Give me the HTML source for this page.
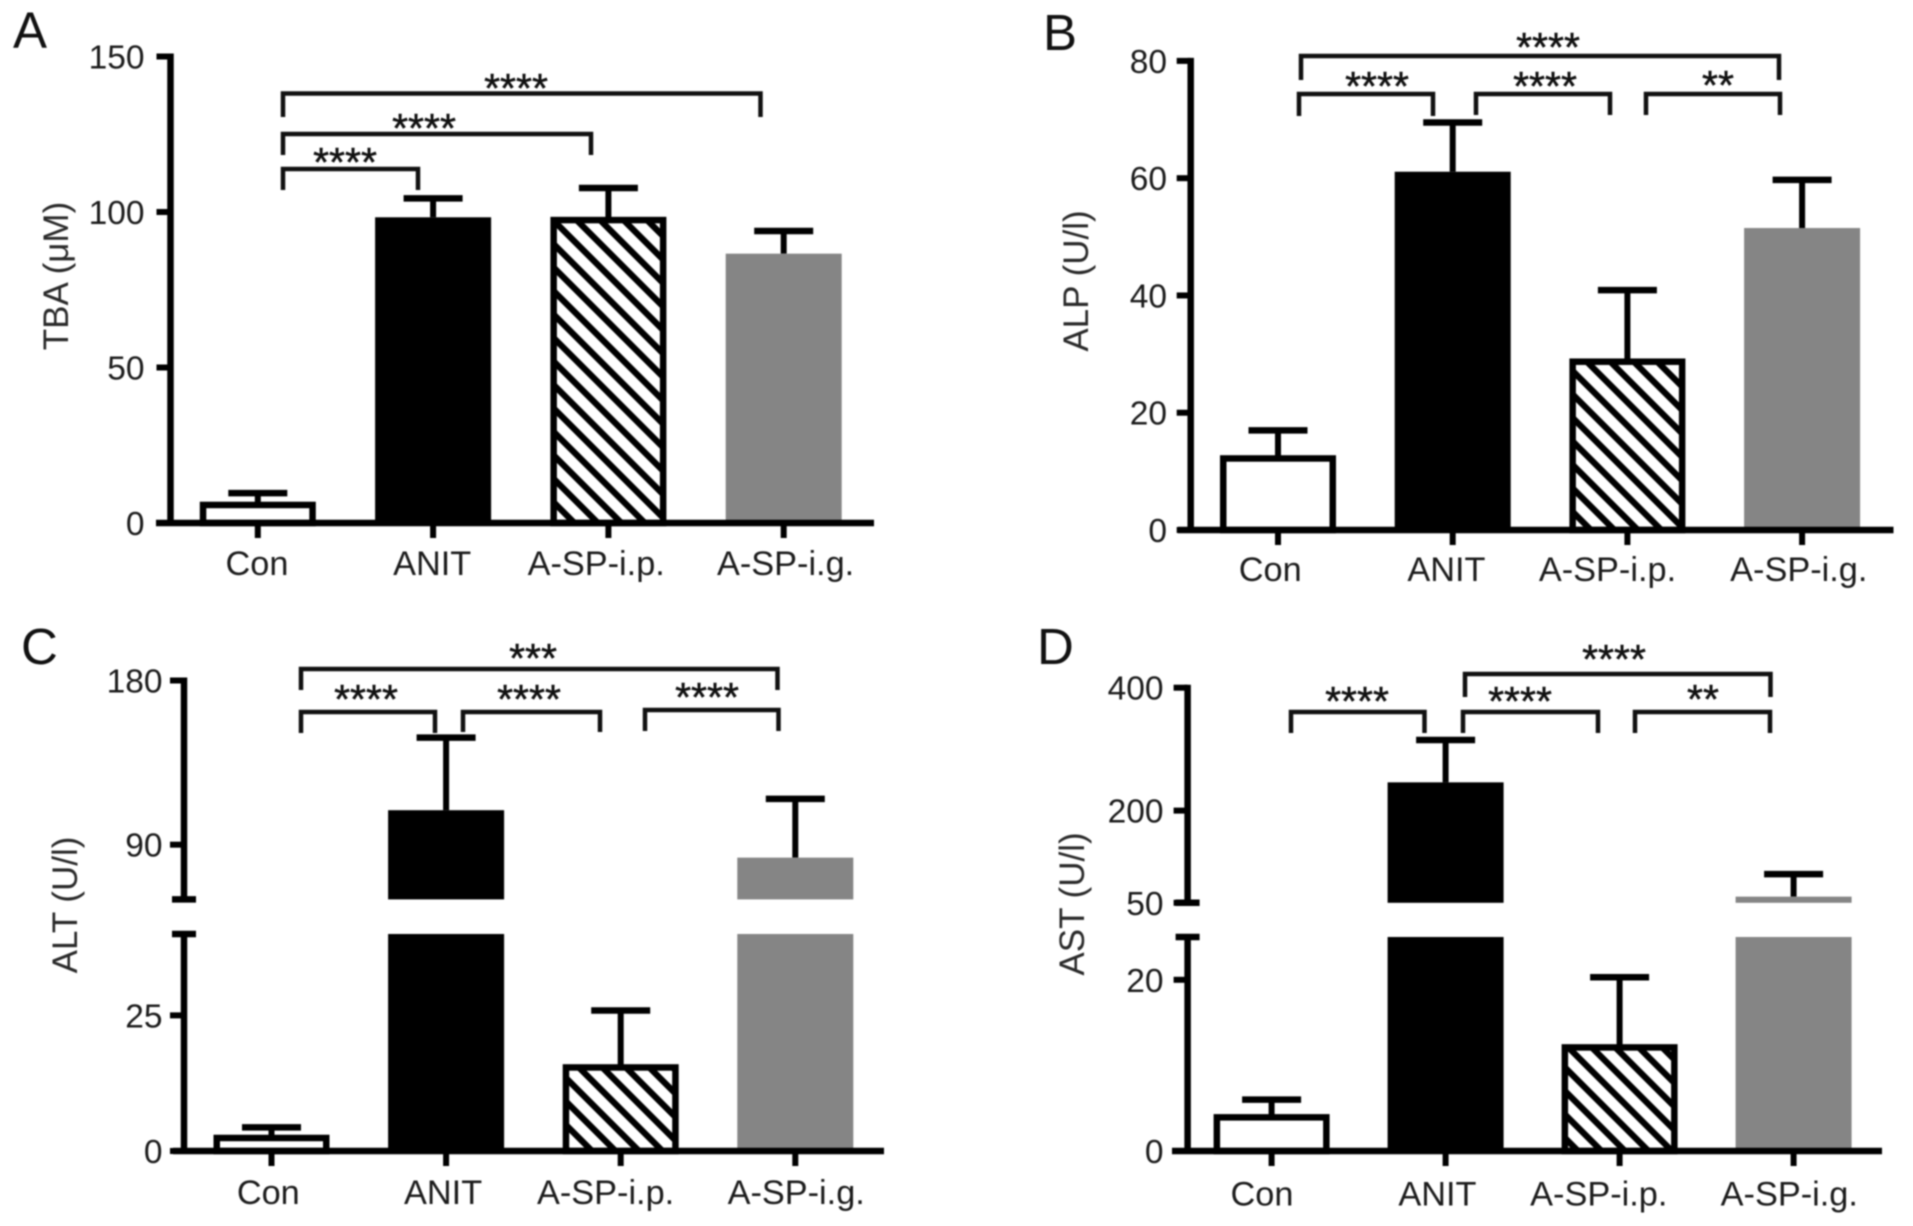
<!DOCTYPE html>
<html lang="en">
<head>
<meta charset="utf-8">
<title>Serum biochemistry bar charts</title>
<style>
html,body{margin:0;padding:0;background:#fff;}
#figure{display:block;width:1913px;height:1226px;filter:blur(0.8px);font-family:"Liberation Sans",sans-serif;}
.letter{font-size:51px;fill:#111;}
.ytitle{font-size:35px;fill:#2a2a2a;text-anchor:middle;}
.stars{font-size:41px;fill:#111;text-anchor:middle;stroke:#111;stroke-width:.5px;}
.bk{fill:none;stroke:#111;stroke-width:4.5px;}
.tick-label{font-size:33.5px;fill:#1c1c1c;text-anchor:end;}
.cat-label{font-size:34.3px;fill:#1c1c1c;text-anchor:middle;}
</style>
</head>
<body>
<svg id="figure" xmlns="http://www.w3.org/2000/svg" width="1913" height="1226" viewBox="0 0 1913 1226">
  <defs>
    <pattern id="hatch" patternUnits="userSpaceOnUse" width="16.6" height="16.6" patternTransform="rotate(-45)">
      <rect width="16.6" height="16.6" fill="#fff"></rect>
      <rect width="6.3" height="16.6" fill="#000"></rect>
    </pattern>
  </defs>
  <rect width="1913" height="1226" fill="#fff"></rect>

  <text class="letter" x="13" y="48">A</text>
  <text class="letter" x="1043" y="50">B</text>
  <text class="letter" x="21" y="664">C</text>
  <text class="letter" x="1037" y="664">D</text>

  <text class="ytitle" transform="translate(68,276) rotate(-90)">TBA (μM)</text>
  <text class="ytitle" transform="translate(1088,281) rotate(-90)">ALP (U/l)</text>
  <text class="ytitle" transform="translate(77,905) rotate(-90)">ALT (U/l)</text>
  <text class="ytitle" transform="translate(1084,904) rotate(-90)">AST (U/l)</text>

  <g>
    <path class="bk" d="M283 117V93.5H760.5V117"></path>
    <text class="stars" x="516" y="102">****</text>
    <path class="bk" d="M283 155V134H591V155"></path>
    <text class="stars" x="424" y="142">****</text>
    <path class="bk" d="M283 190V169H418V190"></path>
    <text class="stars" x="345" y="176">****</text>
  </g>
  <g>
    <path class="bk" d="M1301 80V56H1779V80"></path>
    <text class="stars" x="1548" y="61">****</text>
    <path class="bk" d="M1299 116V94H1433V116"></path>
    <text class="stars" x="1377" y="100">****</text>
    <path class="bk" d="M1476 115V94H1610V115"></path>
    <text class="stars" x="1545" y="100">****</text>
    <path class="bk" d="M1646 115V94H1780V115"></path>
    <text class="stars" x="1718" y="99">**</text>
  </g>
  <g>
    <path class="bk" d="M301 690V669H777.5V690"></path>
    <text class="stars" x="533" y="672">***</text>
    <path class="bk" d="M301 733V712H435V733"></path>
    <text class="stars" x="366" y="713">****</text>
    <path class="bk" d="M463 732V712H600V732"></path>
    <text class="stars" x="529" y="713">****</text>
    <path class="bk" d="M645 731V710H778.5V731"></path>
    <text class="stars" x="707" y="711">****</text>
  </g>
  <g>
    <path class="bk" d="M1465 697V674H1770.5V697"></path>
    <text class="stars" x="1614" y="673">****</text>
    <path class="bk" d="M1291 733V712H1424.5V733"></path>
    <text class="stars" x="1357" y="715">****</text>
    <path class="bk" d="M1463 733V712H1598V733"></path>
    <text class="stars" x="1520" y="715">****</text>
    <path class="bk" d="M1635 733V712H1770V733"></path>
    <text class="stars" x="1703" y="713">**</text>
  </g>
</svg>
<script>
const categories = ["Con", "ANIT", "A-SP-i.p.", "A-SP-i.g."];

const tbaValues = [5.8, 98.3, 97.4, 86.6];
const tbaErrorTops = [9.6, 104.4, 107.7, 93.9];
const tbaTicks = [0, 50, 100, 150];

const alpValues = [12.2, 61.1, 28.7, 51.5];
const alpErrorTops = [17, 69.5, 40.9, 59.7];
const alpTicks = [0, 20, 40, 60, 80];

const altValues = [2.4, 108.9, 15.4, 82.9];
const altErrorTops = [4.35, 148.7, 25.9, 115.1];
const altTicks = [0, 25, 90, 180];

const astValues = [3.93, 246, 12.1, 60];
const astErrorTops = [6, 315, 20.3, 96.6];
const astTicks = [0, 20, 50, 200, 400];

const NS = "http://www.w3.org/2000/svg";
const root = document.getElementById("figure");
const barFills = ["#fff", "#000", "url(#hatch)", "#858585"];
const barOutlined = [true, false, true, false];

function make(tag, parent, attrs) {
  const el = document.createElementNS(NS, tag);
  for (const k in attrs) el.setAttribute(k, attrs[k]);
  parent.appendChild(el);
  return el;
}

function makeYScale(segments) {
  return function (v) {
    for (const s of segments) {
      if (v <= s.d[1] || s === segments[segments.length - 1]) {
        const c = Math.max(v, s.d[0]);
        return s.r[0] + (c - s.d[0]) * (s.r[1] - s.r[0]) / (s.d[1] - s.d[0]);
      }
    }
  };
}

function drawPanel(p) {
  const group = make("g", root, {});
  
  

  const y = makeYScale(p.segments);
  const x = function (i) { return p.x0 + i * p.step; };
  const baseY = p.segments[0].r[0];
  const barW = 116, sw = 6.5;

  // error bars (behind the bars)
  p.values.forEach(function (v, i) {
    const stem = make("line", group, { x1: x(i), x2: x(i), y1: y(v), y2: y(p.errorTops[i]), stroke: "#000", "stroke-width": 6 });
    
    
    const cap = make("line", group, { x1: x(i) - 29.5, x2: x(i) + 29.5, y1: y(p.errorTops[i]), y2: y(p.errorTops[i]), stroke: "#000", "stroke-width": 6.5 });
    
    
  });

  // bars (one piece per axis segment)
  p.values.forEach(function (v, i) {
    p.segments.forEach(function (s, si) {
      if (v <= s.d[0]) return;
      const top = y(Math.min(v, s.d[1]));
      const bottom = s.r[0];
      const attrs = barOutlined[i]
        ? { x: x(i) - barW / 2 + sw / 2, y: top, width: barW - sw, height: bottom - top, fill: barFills[i], stroke: "#000", "stroke-width": sw }
        : { x: x(i) - barW / 2, y: top, width: barW, height: bottom - top, fill: barFills[i] };
      const bar = make("rect", group, attrs);
      
      
    });
  });

  // y axis, one line per segment
  p.segments.forEach(function (s, si) {
    const top = s.r[1];
    const axis = make("line", group, { x1: p.axisX, x2: p.axisX, y1: s.r[0] + 3, y2: top - 3, stroke: "#000", "stroke-width": 6.5 });
    
    
  });

  // axis break end caps
  p.segments.forEach(function (s, si) {
    if (si === 0 && p.segments.length === 1) return;
    const ends = si === 0 ? [s.r[1]] : [s.r[0]];
    ends.forEach(function (ey) {
      const cap = make("line", group, { x1: p.axisX - 12, x2: p.axisX + 12, y1: ey, y2: ey, stroke: "#000", "stroke-width": 6.5 });
      
      
    });
  });

  // y ticks and labels
  p.ticks.forEach(function (t) {
    const ty = y(t);
    const tick = make("line", group, { x1: p.axisX - 14, x2: p.axisX, y1: ty, y2: ty, stroke: "#000", "stroke-width": 6 });
    
    
    const label = make("text", group, { class: "tick-label", x: p.labelRight, y: ty + 12 });
    label.textContent = String(t);
    
    
  });

  // x axis
  const xAxis = make("line", group, { x1: p.axisLeft, x2: p.axisRight, y1: baseY, y2: baseY, stroke: "#000", "stroke-width": 6.5 });
  
  

  categories.forEach(function (c, i) {
    const tick = make("line", group, { x1: x(i), x2: x(i), y1: baseY, y2: baseY + 15, stroke: "#000", "stroke-width": 6 });
    
    
    const label = make("text", group, { class: "cat-label", x: x(i) + p.labelNudge[i], y: baseY + p.labelDrop });
    label.textContent = c;
    
    
  });
}

drawPanel({
  name: "tba", values: tbaValues, errorTops: tbaErrorTops, ticks: tbaTicks,
  segments: [{ d: [0, 150], r: [523, 56.5] }],
  x0: 257.8, step: 175.3, axisX: 170.5, axisLeft: 156, axisRight: 874, labelRight: 144.5, labelDrop: 52,
  labelNudge: [-0.8, -0.9, -12.2, 1.9]
});
drawPanel({
  name: "alp", values: alpValues, errorTops: alpErrorTops, ticks: alpTicks,
  segments: [{ d: [0, 80], r: [530, 60.9] }],
  x0: 1278, step: 174.7, axisX: 1190.7, axisLeft: 1178, axisRight: 1893.5, labelRight: 1167, labelDrop: 51,
  labelNudge: [-7.8, -6.3, -19.9, -3.3]
});
drawPanel({
  name: "alt", values: altValues, errorTops: altErrorTops, ticks: altTicks,
  segments: [{ d: [0, 40], r: [1151, 934] }, { d: [60, 180], r: [899.4, 680.5] }],
  x0: 271.5, step: 174.6, axisX: 184, axisLeft: 173, axisRight: 884, labelRight: 162.5, labelDrop: 53,
  labelNudge: [-3.2, -3, -15.1, 0.9]
});
drawPanel({
  name: "ast", values: astValues, errorTops: astErrorTops, ticks: astTicks,
  segments: [{ d: [0, 25], r: [1151, 937] }, { d: [50, 400], r: [902.8, 687.7] }],
  x0: 1271.6, step: 174, axisX: 1187.6, axisLeft: 1172, axisRight: 1882, labelRight: 1163.5, labelDrop: 54.5,
  labelNudge: [-9.6, -8.2, -20.8, -4.3]
});
</script>
</body>
</html>
